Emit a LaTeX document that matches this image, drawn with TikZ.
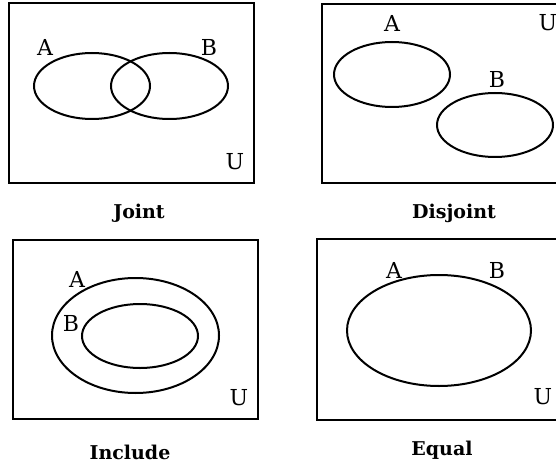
\documentclass[tikz,border=0pt]{standalone}
\usepackage{fontspec}
\setmainfont{DejaVu Serif}
\begin{document}
\begin{tikzpicture}[x=1pt,y=-1pt,
  frame/.style={draw=black,line width=2pt},
  setline/.style={draw=black,line width=2pt},
  lbl/.style={inner sep=0pt,font=\fontsize{22}{22}\selectfont},
  ttl/.style={inner sep=0pt,font=\fontsize{19}{19}\selectfont\bfseries}]
\useasboundingbox (0,0) rectangle (556,465);
\clip (0,0) rectangle (556,465);
% Joint
\draw[frame] (9,3.5) rectangle (254,183);
\draw[setline] (92,86) ellipse [x radius=58pt, y radius=33pt];
\draw[setline] (169.5,86) ellipse [x radius=58.5pt, y radius=33pt];
\node[lbl] (jA) at (45,47) {A};
\node[lbl] (jB) at (209,47) {B};
\node[lbl] (jU) at (235,162) {U};
\node[ttl] (jt) at (139,213) {Joint};
% Disjoint
\draw[frame] (322,4) rectangle (570,183);
\draw[setline] (392,74.5) ellipse [x radius=58pt, y radius=32.5pt];
\draw[setline] (495,125) ellipse [x radius=58pt, y radius=32pt];
\node[lbl] (dA) at (392,23) {A};
\node[lbl] (dB) at (497,79) {B};
\node[lbl] (dU) at (548,23) {U};
\node[ttl] (dt) at (454,213) {Disjoint};
% Include
\draw[frame] (13,240) rectangle (258,419);
\draw[setline] (135.5,335.5) ellipse [x radius=83.5pt, y radius=57.5pt];
\draw[setline] (140,336) ellipse [x radius=58pt, y radius=32pt];
\node[lbl] (iA) at (77,279) {A};
\node[lbl] (iB) at (71,323) {B};
\node[lbl] (iU) at (239,398) {U};
\node[ttl] (it) at (130,452) {Include};
% Equal
\draw[frame] (317,239) rectangle (570,420);
\draw[setline] (439,330.5) ellipse [x radius=92pt, y radius=55.5pt];
\node[lbl] (eA) at (394,270) {A};
\node[lbl] (eB) at (497,270) {B};
\node[lbl] (eU) at (543,397) {U};
\node[ttl] (et) at (442,450) {Equal};
\end{tikzpicture}
\end{document}
